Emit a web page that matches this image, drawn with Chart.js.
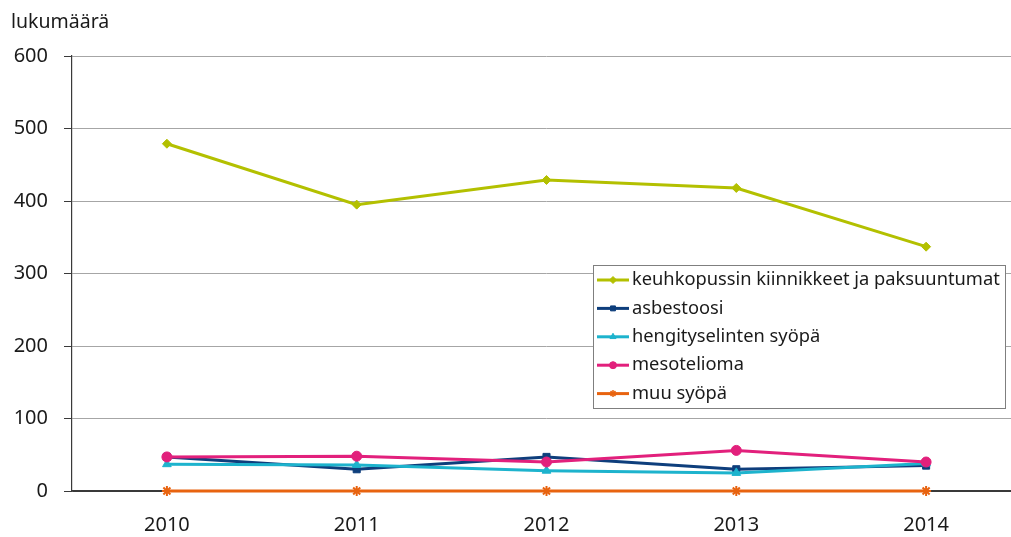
<!DOCTYPE html>
<html><head><meta charset="utf-8">
<script src="https://cdn.jsdelivr.net/npm/chart.js@4/dist/chart.umd.min.js"></script>
<style>
html,body{margin:0;padding:0;background:#fff;overflow:hidden;width:1011px;height:537px}
#wrap{position:relative;width:1028px;height:537px}
canvas{display:block}
</style></head>
<body>
<div id="wrap"><canvas id="c" width="1028" height="537"></canvas></div>
<script>
const years = ['2010','2011','2012','2013','2014'];
const seriesNames = ['keuhkopussin kiinnikkeet ja paksuuntumat','asbestoosi','hengityselinten syöpä','mesotelioma','muu syöpä'];
const keuhkopussi = [479, 395, 429, 418, 337];
const asbestoosi = [47, 30, 47, 30, 35];
const hengityselin = [37, 36, 28, 25, 38];
const mesotelioma = [47, 48, 40, 56, 40];
const muuSyopa = [0, 0, 0, 0, 0];
const yTicks = [0, 100, 200, 300, 400, 500, 600];
const yTitle = 'lukumäärä';

const colors = ['#b3c000', '#0e3e7c', '#1db3cd', '#e2207c', '#e8630f'];
const styles = ['rectRot', 'rect', 'triangle', 'circle', 'star'];
const radii = [4.5, 5, 5, 5, 5];
const values = [keuhkopussi, asbestoosi, hengityselin, mesotelioma, muuSyopa];
const FONT = "'Noto Sans', 'Open Sans', sans-serif";

const datasets = values.map((v, i) => ({
  label: seriesNames[i],
  data: v,
  borderColor: colors[i],
  backgroundColor: colors[i],
  borderWidth: 3,
  pointStyle: styles[i],
  pointRadius: radii[i],
  pointBorderWidth: i === 4 ? 2 : 1,
  tension: 0,
  clip: false,
  order: i === 0 ? 0 : 5 - i
}));

const legendPlugin = {
  id: 'boxLegend',
  afterDraw(chart) {
    const ctx = chart.ctx;
    const x0 = 593, y0 = 265, w = 412, h = 143;
    ctx.save();
    ctx.fillStyle = '#fff';
    ctx.fillRect(x0, y0, w, h);
    ctx.strokeStyle = '#7f7f7f';
    ctx.lineWidth = 1;
    ctx.strokeRect(x0 + 0.5, y0 + 0.5, w, h);
    ctx.font = '18.3px ' + FONT;
    ctx.textBaseline = 'middle';
    chart.data.datasets.forEach((ds, i) => {
      const y = 280 + i * 28.4;
      ctx.strokeStyle = ds.borderColor;
      ctx.lineWidth = 3;
      ctx.beginPath(); ctx.moveTo(597, y); ctx.lineTo(629, y); ctx.stroke();
      ctx.fillStyle = ds.borderColor;
      ctx.strokeStyle = ds.borderColor;
      ctx.lineWidth = i === 4 ? 1.5 : 1;
      Chart.helpers.drawPoint(ctx, {pointStyle: ds.pointStyle, radius: 3.5, borderWidth: i === 4 ? 1.5 : 1}, 613, y);
      ctx.fillStyle = '#1a1a1a';
      ctx.fillText(ds.label, 632, y);
    });
    ctx.restore();
  }
};

const titlePlugin = {
  id: 'yTitle',
  afterDraw(chart) {
    const ctx = chart.ctx;
    ctx.save();
    ctx.font = '19.5px ' + FONT;
    ctx.fillStyle = '#1a1a1a';
    ctx.textBaseline = 'middle';
    ctx.fillText(yTitle, 11, 22);
    ctx.restore();
  }
};

new Chart(document.getElementById('c'), {
  type: 'line',
  data: { labels: years, datasets },
  options: {
    responsive: false,
    animation: false,
    layout: { padding: { top: 56, left: 0, right: 0, bottom: 0 } },
    plugins: { legend: { display: false }, tooltip: { enabled: false } },
    scales: {
      x: {
        offset: true,
        grid: { display: false, drawTicks: false },
        border: { display: true, color: '#3a3a3a', width: 1.2 },
        ticks: { color: '#1a1a1a', font: { size: 20, family: FONT }, padding: 22, maxRotation: 0 },
        afterFit(s) { s.height = 46; }
      },
      y: {
        min: 0, max: 600,
        afterBuildTicks(s) { s.ticks = yTicks.map(v => ({ value: v })); },
        grid: { color: (c) => c.tick && c.tick.value === 0 ? '#3a3a3a' : '#a6a6a6', lineWidth: 1, tickLength: 8, tickColor: '#3a3a3a' },
        border: { display: true, color: '#3a3a3a', width: 1.2 },
        ticks: { color: '#1a1a1a', font: { size: 20, family: FONT }, padding: 16 },
        afterFit(s) { s.width = 72; }
      }
    }
  },
  plugins: [legendPlugin, titlePlugin]
});
</script>
</body></html>
